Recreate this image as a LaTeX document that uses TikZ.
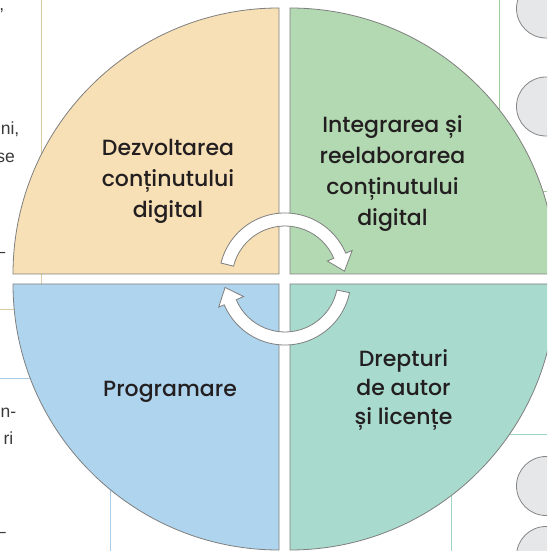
\documentclass[tikz,border=0pt]{standalone}
\usepackage{fontspec}
\setmainfont{Liberation Sans}
\newfontfamily\popm{Poppins Medium}
\definecolor{qline}{HTML}{7F7F7F}
\definecolor{qtl}{HTML}{F7E0B5}
\definecolor{qtr}{HTML}{B2D9B1}
\definecolor{qbl}{HTML}{AFD4EE}
\definecolor{qbr}{HTML}{A8DBCD}
\definecolor{txt}{HTML}{231F20}
\definecolor{fragc}{HTML}{3A3A3A}
\definecolor{tanl}{HTML}{DCCBA3}
\definecolor{bluel}{HTML}{AACCE6}
\definecolor{greenl}{HTML}{9FCB9C}
\definecolor{teall}{HTML}{A0D4C4}
\definecolor{circfill}{HTML}{E6E7E9}
\definecolor{circline}{HTML}{858585}
\begin{document}
\begin{tikzpicture}[x=1pt,y=1pt,
  quad/.style={draw=qline,line width=0.8pt},
  bgline/.style={line width=0.9pt},
  lbl/.style={font=\popm\fontsize{22}{31}\selectfont,text=txt,align=center,inner sep=0pt},
  lblb/.style={font=\popm\fontsize{22}{29}\selectfont,text=txt,align=center,inner sep=0pt},
  frag/.style={font=\fontsize{17.5}{20}\selectfont,text=fragc,inner sep=0pt,anchor=base east},
  sidecirc/.style={circle,draw=circline,fill=circfill,line width=0.8pt,minimum size=59pt,inner sep=0pt},
  cyc/.style={draw=qline,fill=white,line width=0.8pt,line join=miter}]
\useasboundingbox (0,0) rectangle (547,551);
\clip (0,0) rectangle (547,551);
% background frame lines
\draw[bgline,tanl] (41,551) -- (41,242) -- (0,242);
\draw[bgline,bluel] (0,173) -- (110,173) -- (110,0);
\draw[bgline,greenl] (499,551) -- (499,360) -- (547,360);
\draw[bgline,teall] (547,117) -- (451,117) -- (451,0);
% side circles
\node[sidecirc] (c1) at (546,542.5) {};
\node[sidecirc] (c2) at (546,444.5) {};
\node[sidecirc] (c3) at (546,65) {};
\node[sidecirc] (c4) at (546,-5) {};
% text fragments
\node[frag] (f1) at (4.5,540) {,};
\node[frag] (f2) at (19.5,416) {ni,};
\node[frag] (f3) at (15,388) {se};
\node[frag] (f4) at (5.5,293.4) {–};
\node[frag] (f5) at (16.5,133) {n-};
\node[frag] (f6) at (13.5,106) {ri};
\node[frag] (f7) at (6,13.4) {–};
% quadrants
\fill[qtl] (279,277) -- ++(-266,0) arc[start angle=180,end angle=90,radius=266] -- cycle;
\fill[qtr] (290,277) -- ++(0,266) arc[start angle=90,end angle=0,radius=266] -- cycle;
\fill[qbr] (290,267) -- ++(266,0) arc[start angle=0,end angle=-90,radius=266] -- cycle;
\fill[qbl] (279,267) -- ++(0,-266) arc[start angle=-90,end angle=-180,radius=266] -- cycle;
\draw[quad] (279,277) -- ++(-266,0) arc[start angle=180,end angle=90,radius=266] -- cycle;
\draw[quad] (290,277) -- ++(0,266) arc[start angle=90,end angle=0,radius=266] -- cycle;
\draw[quad] (290,267) -- ++(266,0) arc[start angle=0,end angle=-90,radius=266] -- cycle;
\draw[quad] (279,267) -- ++(0,-266) arc[start angle=-90,end angle=-180,radius=266] -- cycle;
% cycle arrows
\begin{scope}[shift={(285,272)}]
\draw[cyc] (166:66) arc[start angle=166,end angle=23,radius=66] -- (23:73) -- (7.5:60) -- (23:46) -- (23:53) arc[start angle=23,end angle=166,radius=53] -- cycle;
\draw[cyc] (-12:66) arc[start angle=-12,end angle=-157,radius=66] -- (-157:72) -- (-172:60.5) -- (-157:45) -- (-157:53) arc[start angle=-157,end angle=-12,radius=53] -- cycle;
\end{scope}
% labels
\node[lbl] (tl) at (168,370) {Dezvoltarea\\conținutului\\digital};
\node[lbl] (tr) at (392.5,377) {Integrarea și\\reelaborarea\\conținutului\\digital};
\node[lbl,anchor=base] (bl) at (170,154) {Programare};
\node[lblb] (br) at (403.5,160.7) {Drepturi\\de autor\\și licențe};
\end{tikzpicture}
\end{document}
